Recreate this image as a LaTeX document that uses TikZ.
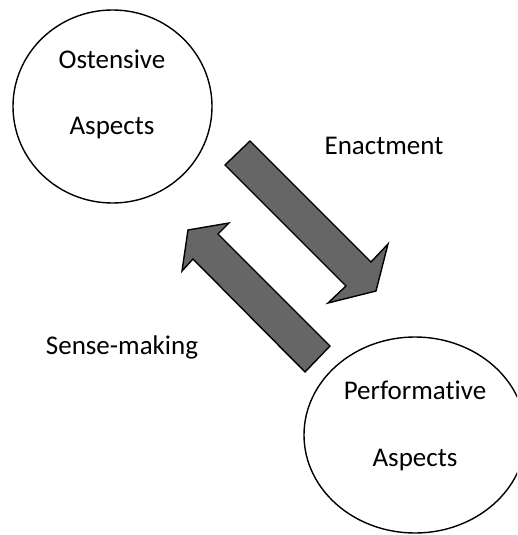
\documentclass[tikz,border=0pt]{standalone}
\usepackage{fontspec}
\setmainfont{Carlito}[Ligatures=NoCommon]
\usetikzlibrary{shapes.geometric}
\begin{document}
\begin{tikzpicture}[x=1pt,y=-1pt,
  aspect/.style={draw=black,line width=1.4pt,ellipse,inner sep=0pt},
  label/.style={anchor=base,inner sep=0pt,font=\fontsize{27}{32}\selectfont},
  blockarrow/.style={draw=black,line width=1.4pt,fill=black!60,line join=miter}]
\useasboundingbox (0,0) rectangle (517,535);
\clip (0,0) rectangle (517,535);
\fill[white] (0,0) rectangle (517,535);

% the two aspect circles
\node[aspect,minimum width=199pt,minimum height=193pt] (ost) at (112.5,106.5) {};
\node[aspect,minimum width=222pt,minimum height=196pt] (perf) at (415,435) {};

% their captions
\node[label] (ost1) at (112,68) {Ostensive};
\node[label] (ost2) at (112,134) {Aspects};
\node[label] (perf1) at (415,399) {Performative};
\node[label] (perf2) at (415,466) {Aspects};

% block arrows between the aspects
\draw[blockarrow] (250,141) -- (371,262) -- (388,244) -- (376,291)
  -- (328,303) -- (346,286) -- (225,165) -- cycle;
\draw[blockarrow] (330,346) -- (218,234) -- (229,223) -- (188,230)
  -- (182,271) -- (193,259) -- (305,372) -- cycle;

% arrow captions
\node[label] (enact) at (384,154) {Enactment};
\node[label] (sense) at (122,354) {Sense-making};
\end{tikzpicture}
\end{document}
